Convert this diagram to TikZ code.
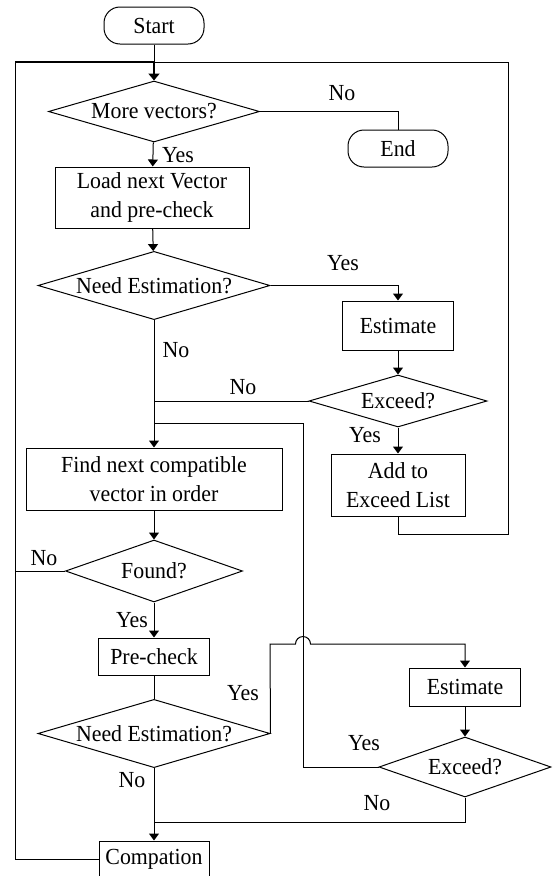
\documentclass[tikz,border=0pt]{standalone}
\usepackage{fontspec}
\setmainfont{Liberation Serif}[FakeStretch=0.95]
\usetikzlibrary{arrows.meta,shapes.geometric}
\begin{document}
\begin{tikzpicture}[x=1pt,y=-1pt,
  every node/.style={font=\fontsize{23}{28.5}\selectfont},
  shp/.style={draw=black, line width=1pt, inner sep=0pt, align=center},
  box/.style={shp, rectangle},
  term/.style={shp, rectangle, rounded corners=16pt},
  dec/.style={shp, diamond, aspect=3},
  conn/.style={draw=black, line width=1pt},
  arr/.style={conn, -{Triangle[length=7pt,width=10pt]}},
  thk/.style={draw=black, line width=2pt},
  lbl/.style={inner sep=0pt}
]
\useasboundingbox (0,0) rectangle (552,876);
\clip (0,0) rectangle (552,876);

% nodes
\node[term, minimum width=100pt, minimum height=37pt] (start) at (154,25.5) {Start};
\node[dec, minimum width=211pt, minimum height=61pt] (more) at (154,111.5) {More vectors?};
\node[term, minimum width=100pt, minimum height=37pt] (end) at (398,148.5) {End};
\node[box, minimum width=194pt, minimum height=61pt] (load) at (152,197.5) {Load next Vector\\and pre-check};
\node[dec, minimum width=232pt, minimum height=67pt] (ne1) at (154,285.5) {Need Estimation?};
\node[box, minimum width=111.5pt, minimum height=49pt] (est1) at (398,325.5) {Estimate};
\node[dec, minimum width=178pt, minimum height=52pt] (exc1) at (398,401) {Exceed?};
\node[box, minimum width=134pt, minimum height=62pt] (add) at (398,485) {Add to\\Exceed List};
\node[box, minimum width=256pt, minimum height=62pt] (find) at (154,479) {Find next compatible\\vector in order};
\node[dec, minimum width=177pt, minimum height=62pt] (found) at (154,571) {Found?};
\node[box, minimum width=111pt, minimum height=37pt] (pre) at (154,656.5) {Pre-check};
\node[dec, minimum width=232pt, minimum height=67pt] (ne2) at (154,733.5) {Need Estimation?};
\node[box, minimum width=111.5pt, minimum height=38pt] (est2) at (465,687) {Estimate};
\node[dec, minimum width=172pt, minimum height=60pt] (exc2) at (465,767) {Exceed?};
\node[box, minimum width=110pt, minimum height=36pt] (comp) at (154,859) {Compation};

% helper coordinates
\coordinate (tl) at (15,62);
\coordinate (tj) at (154,62);
\coordinate (tr) at (508,62);
\coordinate (rb) at (508,534);
\coordinate (j1) at (154,401);
\coordinate (j2) at (154,423);
\coordinate (j3) at (154,822);
\coordinate (lf) at (15,571);
\coordinate (vx) at (303,423);
\coordinate (hl) at (270,644);
\coordinate (hopa) at (295.5,644);

% connectors
\draw[conn] (start) -- (tj);
\draw[conn] (tj) -- (tr) -- (rb) -| (add);
\draw[thk] (tl) -- (tj);
\draw[thk, -{Triangle[length=7pt,width=11pt]}] (tj) -- (more);
\draw[conn] (more.east) -| (end);
\draw[arr] (more) -- (load);
\draw[arr] (load) -- (ne1);
\draw[arr] (ne1.east) -| (est1);
\draw[arr] (est1) -- (exc1);
\draw[arr] (exc1) -- (add);
\draw[conn] (exc1.west) -- (j1);
\draw[arr] (ne1) -- (find);
\draw[arr] (find) -- (found);
\draw[conn] (found.west) -- (lf);
\draw[arr] (found) -- (pre);
\draw[conn] (pre) -- (ne2);
\draw[arr] (ne2.east) -- (hl) -- (hopa) arc[start angle=180, end angle=0, radius=7.5pt] -| (est2);
\draw[arr] (est2) -- (exc2);
\draw[conn] (exc2.west) -| (vx) -- (j2);
\draw[arr] (ne2) -- (comp);
\draw[conn] (exc2.south) |- (j3);
\draw[conn] (comp.west) -| (tl);

% labels
\node[lbl] (l1) at (342,93) {No};
\node[lbl] (l2) at (178,155) {Yes};
\node[lbl] (l3) at (343,263) {Yes};
\node[lbl] (l4) at (176,350) {No};
\node[lbl] (l5) at (243,387) {No};
\node[lbl] (l6) at (365,435) {Yes};
\node[lbl] (l7) at (44,558) {No};
\node[lbl] (l8) at (132,620) {Yes};
\node[lbl] (l9) at (243,693) {Yes};
\node[lbl] (l10) at (364,743) {Yes};
\node[lbl] (l11) at (132,780) {No};
\node[lbl] (l12) at (377,803) {No};
\end{tikzpicture}
\end{document}
